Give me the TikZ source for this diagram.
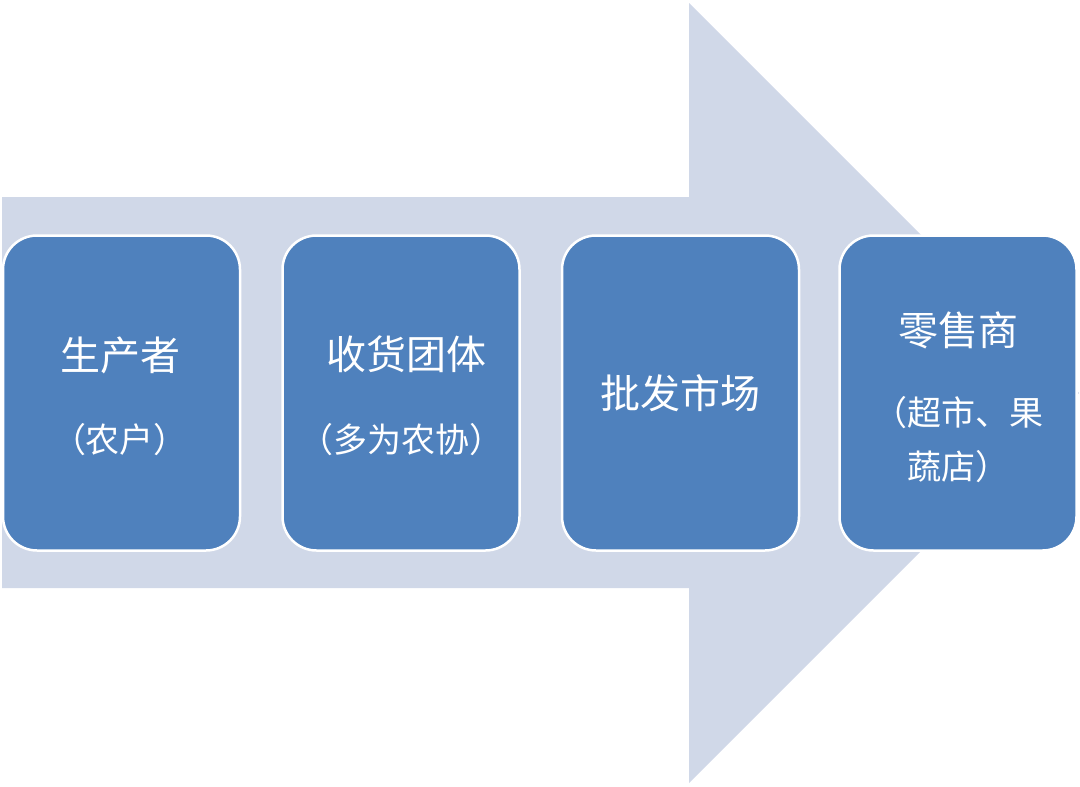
\documentclass[tikz,border=0pt]{standalone}
\usepackage{fontspec}
\newfontfamily\cjk{Noto Sans CJK SC}
\definecolor{arrowfill}{HTML}{D0D8E8}
\definecolor{boxfill}{HTML}{4F81BD}
\begin{document}
\begin{tikzpicture}[x=1pt,y=-1pt,
  stagebox/.style={draw=white, line width=2.5pt, fill=boxfill, rounded corners=34pt,
    minimum width=237pt, minimum height=315pt, inner sep=0pt, outer sep=0pt},
  titletext/.style={text=white, font=\cjk\fontsize{40pt}{48pt}\selectfont, anchor=base, inner sep=0pt},
  subtext/.style={text=white, font=\cjk\fontsize{34pt}{40pt}\selectfont, anchor=base, inner sep=0pt}]
\useasboundingbox (0,0) rectangle (1080,787);
% big arrow
\fill[arrowfill] (2,197) -- (689,197) -- (689,3) -- (1079,393) -- (689,783) -- (689,588) -- (2,588) -- cycle;
% boxes
\node[stagebox] (b1) at (121.5,393) {};
\node[stagebox] (b2) at (401,393) {};
\node[stagebox] (b3) at (680.5,393) {};
\node[stagebox] (b4) at (958,393) {};
% texts
\node[titletext] (t1) at (120,370) {生产者};
\node[subtext] (s1) at (120,452) {（农户）};
\node[titletext] (t2) at (406,369) {收货团体};
\node[subtext] (s2) at (401,452) {（多为农协）};
\node[titletext] (t3) at (680,408) {批发市场};
\node[titletext] (t4) at (958,345) {零售商};
\node[subtext] (s4a) at (958,425) {（超市、果};
\node[subtext] (s4b) at (958,479) {蔬店）};
\end{tikzpicture}
\end{document}
